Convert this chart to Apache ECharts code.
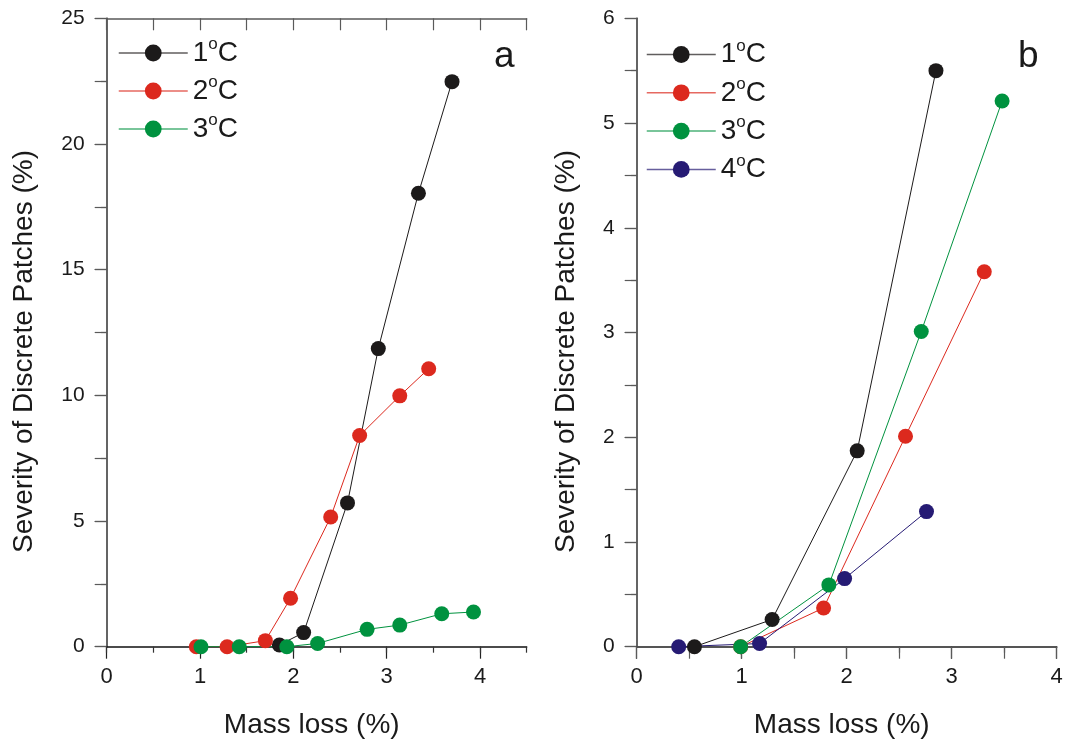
<!DOCTYPE html>
<html>
<head>
<meta charset="utf-8">
<title>Severity of discrete patches vs mass loss</title>
<script src="https://cdn.jsdelivr.net/npm/echarts@6/dist/echarts.min.js"></script>
<style>
  html, body { margin: 0; padding: 0; background: #ffffff; }
  #chart { width: 1065px; height: 742px; }
</style>
</head>
<body>
<div id="chart"></div>
<script>
// Panel a: mass loss (%) and severity (%) per storage temperature
const massA_1C = [1.85, 2.11, 2.58, 2.91, 3.34, 3.70];
const sevA_1C  = [0.07, 0.56, 5.72, 11.86, 18.04, 22.48];
const massA_2C = [0.96, 1.29, 1.70, 1.97, 2.40, 2.71, 3.14, 3.45];
const sevA_2C  = [0, 0, 0.24, 1.93, 5.16, 8.40, 9.98, 11.06];
const massA_3C = [1.01, 1.42, 1.93, 2.26, 2.79, 3.14, 3.59, 3.93];
const sevA_3C  = [0, 0, 0, 0.13, 0.69, 0.86, 1.31, 1.38];

// Panel b
const massB_1C = [0.55, 1.29, 2.10, 2.85];
const sevB_1C  = [0, 0.26, 1.87, 5.50];
const massB_2C = [0.99, 1.78, 2.56, 3.31];
const sevB_2C  = [0, 0.37, 2.01, 3.58];
const massB_3C = [0.99, 1.83, 2.71, 3.48];
const sevB_3C  = [0, 0.59, 3.01, 5.21];
const massB_4C = [0.40, 1.17, 1.98, 2.76];
const sevB_4C  = [0, 0.03, 0.65, 1.29];

const seriesNames = ['1°C', '2°C', '3°C', '4°C'];
const panelLetters = ['a', 'b'];
const xTitle = 'Mass loss (%)';
const yTitle = 'Severity of Discrete Patches (%)';
const xLabelsA = [0, 1, 2, 3, 4];

const COLORS = {
  '1°C': '#1c1a1a',
  '2°C': '#dc291e',
  '3°C': '#00923f',
  '4°C': '#261b74'
};
const FONT = "'Liberation Sans', Arial, Helvetica, sans-serif";
const TEXT = '#1a1a1a';
const FRAME = '#5a5a5a';

function pairs(xs, ys) { return xs.map((x, i) => [x, ys[i]]); }

function lineSeries(name, xs, ys, xi, yi) {
  return {
    type: 'line',
    name: name,
    xAxisIndex: xi,
    yAxisIndex: yi,
    data: pairs(xs, ys),
    symbol: 'circle',
    symbolSize: 15,
    color: COLORS[name],
    lineStyle: { width: 1, color: COLORS[name] },
    itemStyle: { color: COLORS[name] },
    emphasis: { disabled: true },
    z: 3
  };
}

const labelStyle = (size, margin) => ({
  fontFamily: FONT, fontSize: size, color: TEXT, margin: margin
});

function legendFor(names, left, top, gap) {
  return {
    data: names,
    orient: 'vertical',
    left: left,
    top: top,
    padding: 0,
    itemWidth: 69,
    itemHeight: 21,
    itemGap: gap,
    selectedMode: false,
    lineStyle: { width: 1.5, opacity: 0.7 },
    formatter: n => {
      const parts = n.split('°');
      return '{n|' + parts[0] + '}{s|o}{n|' + parts[1] + '}';
    },
    textStyle: {
      fontFamily: FONT,
      color: TEXT,
      rich: {
        n: { fontFamily: FONT, fontSize: 28, lineHeight: 34, color: TEXT },
        s: { fontFamily: FONT, fontSize: 17, lineHeight: 19, color: TEXT, verticalAlign: 'top' }
      }
    }
  };
}

const option = {
  backgroundColor: '#ffffff',
  animation: false,
  title: [
    { text: panelLetters[0], left: 489, top: 33, textStyle: { fontFamily: FONT, fontSize: 37, fontWeight: 'normal', color: TEXT } },
    { text: panelLetters[1], left: 1013, top: 33, textStyle: { fontFamily: FONT, fontSize: 37, fontWeight: 'normal', color: TEXT } }
  ],
  legend: [
    legendFor(seriesNames.slice(0, 3), 118, 36, 7),
    legendFor(seriesNames.slice(0, 4), 646, 37.5, 7.3)
  ],
  grid: [
    { left: 106.7, right: 538.3, top: 18.3, bottom: 95.3, outerBoundsMode: 'none', containLabel: false },
    { left: 636.7, right: 8.3, top: 18.3, bottom: 95.3, outerBoundsMode: 'none', containLabel: false }
  ],
  xAxis: [
    // a: bottom axis with labels and long ticks at whole numbers
    {
      type: 'value', gridIndex: 0, position: 'bottom', min: 0, max: 4.5, interval: 0.5,
      name: xTitle, nameLocation: 'middle', nameGap: 65,
      nameTextStyle: { fontFamily: FONT, fontSize: 28, color: TEXT, padding: [0, 10, 0, 0] },
      axisLine: { show: true, lineStyle: { color: '#111', width: 1.5 } },
      axisTick: { show: true, inside: false, length: 12, customValues: xLabelsA, lineStyle: { color: '#222', width: 1.2 } },
      axisLabel: Object.assign(labelStyle(22, 19), { customValues: xLabelsA, formatter: v => (Number.isInteger(v) ? String(v) : '') }),
      splitLine: { show: false }
    },
    // a: short half-unit ticks
    {
      type: 'value', gridIndex: 0, position: 'bottom', min: 0, max: 4.5, interval: 0.5,
      axisLine: { show: false },
      axisTick: { show: true, inside: false, length: 6, lineStyle: { color: '#333', width: 1.2 } },
      axisLabel: { show: false },
      splitLine: { show: false }
    },
    // a: top frame
    {
      type: 'value', gridIndex: 0, position: 'top', min: 0, max: 4.5, interval: 0.5,
      axisLine: { show: true, lineStyle: { color: FRAME, width: 1.5 } },
      axisTick: { show: true, inside: true, length: 12, lineStyle: { color: FRAME, width: 1.2 } },
      axisLabel: { show: false },
      splitLine: { show: false }
    },
    // b: bottom axis
    {
      type: 'value', gridIndex: 1, position: 'bottom', min: 0, max: 4, interval: 1,
      name: xTitle, nameLocation: 'middle', nameGap: 65,
      nameTextStyle: { fontFamily: FONT, fontSize: 28, color: TEXT, padding: [0, 10, 0, 0] },
      axisLine: { show: true, lineStyle: { color: '#111', width: 1.5 } },
      axisTick: { show: true, inside: false, length: 12, lineStyle: { color: '#222', width: 1.2 } },
      minorTick: { show: true, splitNumber: 2, length: 6, lineStyle: { color: '#333', width: 1.2 } },
      axisLabel: labelStyle(22, 19),
      splitLine: { show: false }, minorSplitLine: { show: false }
    },
    // b: top frame
    {
      type: 'value', gridIndex: 1, position: 'top', min: 0, max: 4, interval: 0.5,
      axisLine: { show: true, lineStyle: { color: FRAME, width: 1.5 } },
      axisTick: { show: true, inside: true, length: 12, lineStyle: { color: FRAME, width: 1.2 } },
      axisLabel: { show: false },
      splitLine: { show: false }
    }
  ],
  yAxis: [
    // a: left axis
    {
      type: 'value', gridIndex: 0, position: 'left', min: 0, max: 25, interval: 5,
      name: yTitle, nameLocation: 'middle', nameGap: 68,
      nameTextStyle: { fontFamily: FONT, fontSize: 28, color: TEXT, padding: [0, 38, 0, 0] },
      axisLine: { show: true, lineStyle: { color: FRAME, width: 1.5 } },
      axisTick: { show: true, inside: false, length: 12, lineStyle: { color: FRAME, width: 1.2 } },
      minorTick: { show: true, splitNumber: 2, length: 6, lineStyle: { color: FRAME, width: 1.2 } },
      axisLabel: labelStyle(21, 22),
      splitLine: { show: false }, minorSplitLine: { show: false }
    },
    // a: right frame
    {
      type: 'value', gridIndex: 0, position: 'right', min: 0, max: 25, interval: 2.5,
      axisLine: { show: true, lineStyle: { color: FRAME, width: 1.5 } },
      axisTick: { show: true, inside: true, length: 12, lineStyle: { color: FRAME, width: 1.2 } },
      axisLabel: { show: false },
      splitLine: { show: false }
    },
    // b: left axis
    {
      type: 'value', gridIndex: 1, position: 'left', min: 0, max: 6, interval: 1,
      name: yTitle, nameLocation: 'middle', nameGap: 56,
      nameTextStyle: { fontFamily: FONT, fontSize: 28, color: TEXT, padding: [0, 38, 0, 0] },
      axisLine: { show: true, lineStyle: { color: FRAME, width: 1.5 } },
      axisTick: { show: true, inside: false, length: 12, lineStyle: { color: FRAME, width: 1.2 } },
      minorTick: { show: true, splitNumber: 2, length: 6, lineStyle: { color: FRAME, width: 1.2 } },
      axisLabel: labelStyle(21, 22),
      splitLine: { show: false }, minorSplitLine: { show: false }
    },
    // b: right frame
    {
      type: 'value', gridIndex: 1, position: 'right', min: 0, max: 6, interval: 0.5,
      axisLine: { show: true, lineStyle: { color: FRAME, width: 1.5 } },
      axisTick: { show: true, inside: true, length: 12, lineStyle: { color: FRAME, width: 1.2 } },
      axisLabel: { show: false },
      splitLine: { show: false }
    }
  ],
  series: [
    lineSeries('1°C', massA_1C, sevA_1C, 0, 0),
    lineSeries('2°C', massA_2C, sevA_2C, 0, 0),
    lineSeries('3°C', massA_3C, sevA_3C, 0, 0),
    lineSeries('1°C', massB_1C, sevB_1C, 3, 2),
    lineSeries('2°C', massB_2C, sevB_2C, 3, 2),
    lineSeries('3°C', massB_3C, sevB_3C, 3, 2),
    lineSeries('4°C', massB_4C, sevB_4C, 3, 2)
  ]
};

const chart = echarts.init(document.getElementById('chart'), null, { renderer: 'canvas' });
chart.setOption(option);
</script>
</body>
</html>
